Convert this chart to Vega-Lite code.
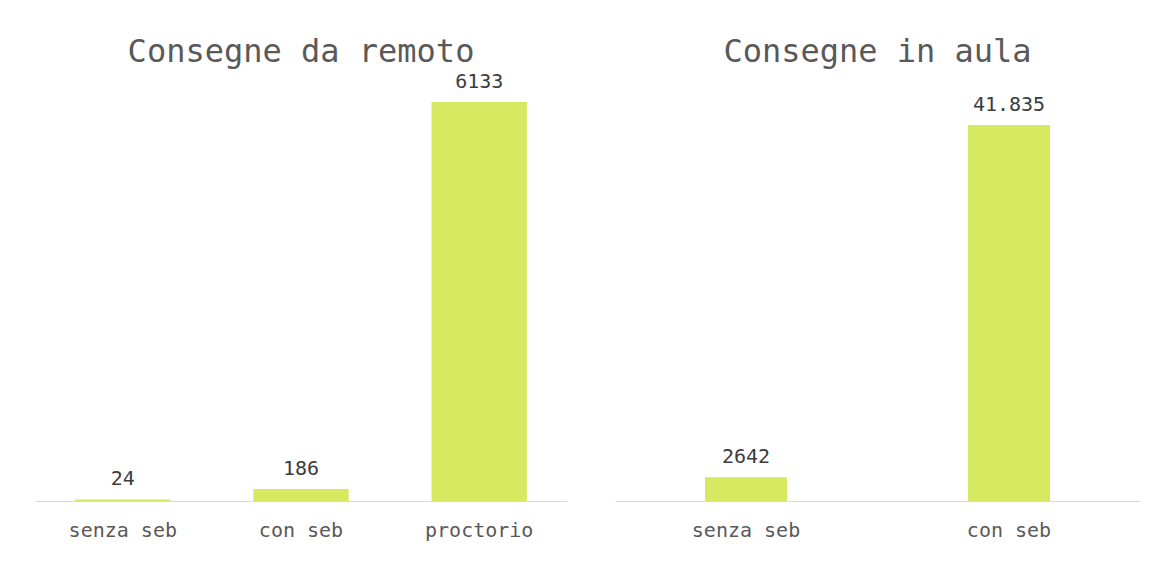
{
  "$schema": "https://vega.github.io/schema/vega-lite/v6.json",
  "background": "white",
  "padding": {"left": 35, "top": 35, "right": 15, "bottom": 10},
  "spacing": 48,
  "config": {
    "view": {"stroke": null},
    "font": "DejaVu Sans Mono",
    "locale": {"number": {"decimal": ",", "thousands": ".", "grouping": [3], "currency": ["€", ""]}},
    "title": {"fontSize": 32, "fontWeight": "normal", "color": "#595959", "font": "DejaVu Sans Mono", "anchor": "middle", "offset": 3},
    "axisX": {"domainColor": "#d9d9d9", "domainWidth": 1, "ticks": false, "grid": false, "labelFontSize": 20, "labelColor": "#595959", "labelPadding": 19, "labelAngle": 0, "title": null, "labelFont": "DejaVu Sans Mono"}
  },
  "datasets": {
    "remoto": [
      {"categoria": "senza seb", "consegne": 24},
      {"categoria": "con seb", "consegne": 186},
      {"categoria": "proctorio", "consegne": 6133}
    ],
    "aula": [
      {"categoria": "senza seb", "consegne": 2642},
      {"categoria": "con seb", "consegne": 41835}
    ]
  },
  "hconcat": [
    {
      "title": "Consegne da remoto",
      "data": {"name": "remoto"},
      "width": 532,
      "height": 429,
      "encoding": {
        "x": {"field": "categoria", "type": "nominal", "sort": null, "scale": {"paddingInner": 0.465, "paddingOuter": 0.225}, "axis": {}},
        "y": {"field": "consegne", "type": "quantitative", "scale": {"domain": [0, 6594], "nice": false}, "axis": null}
      },
      "layer": [
        {"mark": {"type": "bar", "color": "#d6e961"}},
        {"mark": {"type": "text", "baseline": "bottom", "dy": -10, "fontSize": 20, "color": "#3c3c3c", "font": "DejaVu Sans Mono"},
         "encoding": {"text": {"field": "consegne", "type": "quantitative", "format": "d"}}}
      ]
    },
    {
      "title": "Consegne in aula",
      "data": {"name": "aula"},
      "width": 525,
      "height": 429,
      "encoding": {
        "x": {"field": "categoria", "type": "nominal", "sort": null, "scale": {"paddingInner": 0.688, "paddingOuter": 0.342}, "axis": {}},
        "y": {"field": "consegne", "type": "quantitative", "scale": {"domain": [0, 47732], "nice": false}, "axis": null}
      },
      "layer": [
        {"mark": {"type": "bar", "color": "#d6e961"}},
        {"mark": {"type": "text", "baseline": "bottom", "dy": -10, "fontSize": 20, "color": "#3c3c3c", "font": "DejaVu Sans Mono"},
         "encoding": {"text": {"condition": {"test": "datum.consegne >= 10000", "field": "consegne", "type": "quantitative", "format": ",d"}, "field": "consegne", "type": "quantitative", "format": "d"}}}
      ]
    }
  ]
}
